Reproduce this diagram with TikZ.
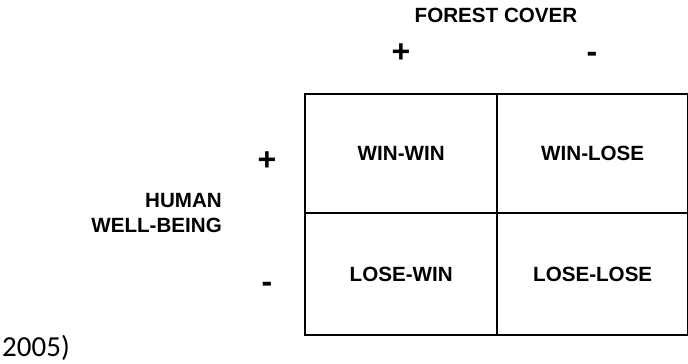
\documentclass[tikz,border=0pt]{standalone}
\usepackage{fontspec}
\setmainfont{Liberation Sans}
\newfontfamily\notefont{Carlito}
\begin{document}
\begin{tikzpicture}[x=1pt,y=-1pt,
  label/.style={font=\fontsize{20.6}{25}\selectfont\bfseries, inner sep=0pt},
  sign/.style={font=\fontsize{32}{32}\selectfont\bfseries, inner sep=0pt, anchor=base},
  cell/.style={label, draw, line width=2.4pt, anchor=north west},
  wide/.style={minimum width=192pt},
  narrow/.style={minimum width=191pt},
  upper/.style={minimum height=119pt},
  lower/.style={minimum height=122pt}]
  \useasboundingbox (0,0) rectangle (688,364);

  % 2x2 outcome matrix
  \node[cell, wide, upper]   (ww) at (304,93)  {WIN-WIN};
  \node[cell, narrow, upper] (wl) at (496,93)  {WIN-LOSE};
  \node[cell, wide, lower]   (lw) at (304,212) {LOSE-WIN};
  \node[cell, narrow, lower] (ll) at (496,212) {LOSE-LOSE};

  % column heading and signs
  \node[label] (forest) at (496,15) {FOREST COVER};
  \node[sign] (fplus)  at (401,62) {+};
  \node[sign] (fminus) at (592,62) {-};

  % row heading and signs
  \node[label, align=right, anchor=east] (human) at (222,213) {HUMAN\\WELL-BEING};
  \node[sign] (hplus)  at (267,170) {+};
  \node[sign] (hminus) at (267,292) {-};

  % trailing citation fragment
  \node[font=\notefont\fontsize{29}{29}\selectfont, inner sep=0pt, anchor=base west] (cite) at (2,356) {2005)};
\end{tikzpicture}
\end{document}
